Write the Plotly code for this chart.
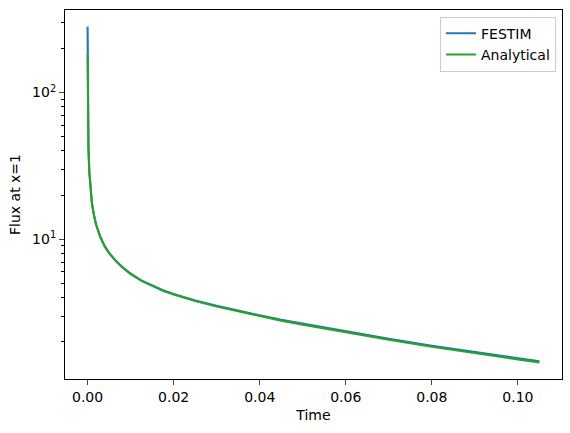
import plotly.graph_objects as go

time = [0, 1e-5, 3e-5, 1e-4, 2e-4, 4e-4, 7e-4, 0.001, 0.0015, 0.002, 0.003, 0.004,
        0.005, 0.0065, 0.008, 0.01, 0.0125, 0.015, 0.0175, 0.02, 0.0225, 0.025,
        0.03, 0.035, 0.04, 0.045, 0.05, 0.06, 0.07, 0.08, 0.09, 0.1, 0.105]
analytical = [182, 148, 95.5, 57.5, 41.7, 28.8, 20.9, 17.6, 14.45, 12.5, 10.28, 8.91,
              8.04, 7.13, 6.46, 5.79, 5.21, 4.79, 4.46, 4.20, 3.98, 3.79,
              3.48, 3.22, 2.99, 2.79, 2.62, 2.32, 2.07, 1.85, 1.67, 1.52, 1.45]
festim = [280, 149, 96, 57.7, 41.8, 28.9, 21.0, 17.7, 14.5, 12.55, 10.32, 8.95,
          8.08, 7.17, 6.50, 5.83, 5.25, 4.83, 4.50, 4.24, 4.02, 3.83,
          3.52, 3.26, 3.03, 2.83, 2.66, 2.36, 2.10, 1.88, 1.70, 1.545, 1.475]

font = dict(family="DejaVu Sans", size=14, color="#000000")

fig = go.Figure()
fig.add_trace(go.Scatter(x=time, y=festim, mode="lines", name="FESTIM",
                         line=dict(color="#1f77b4", width=2.1)))
fig.add_trace(go.Scatter(x=time, y=analytical, mode="lines", name="Analytical",
                         line=dict(color="#2ca02c", width=2.1)))

minor_vals = [m * 10 ** e for e in (0, 1, 2) for m in range(2, 10)]

fig.update_layout(
    width=570, height=433,
    margin=dict(l=65, r=8, t=10, b=54),
    paper_bgcolor="white", plot_bgcolor="white",
    font=font,
    showlegend=True,
    legend=dict(x=0.988, y=0.982, xanchor="right", yanchor="top",
                bordercolor="#cccccc", borderwidth=1, bgcolor="rgba(255,255,255,0.8)",
                font=dict(family="DejaVu Sans", size=14), itemwidth=30,
                tracegroupgap=0),
    xaxis=dict(range=[-0.00525, 0.11025], tickvals=[0, 0.02, 0.04, 0.06, 0.08, 0.10],
               tickformat=".2f", ticks="outside", ticklen=5, tickwidth=1.1,
               showline=True, linecolor="black", linewidth=1.1, mirror=True,
               showgrid=False, zeroline=False,
               title=dict(text="Time", font=font, standoff=6)),
    yaxis=dict(type="log", range=[0.048, 2.562],
               tickvals=[10, 100], ticktext=["10<sup>1</sup>", "10<sup>2</sup>"],
               ticks="outside", ticklen=5, tickwidth=1.1,
               minor=dict(tickvals=minor_vals, ticks="outside", ticklen=3, tickwidth=0.8,
                          tickcolor="black", showgrid=False),
               showline=True, linecolor="black", linewidth=1.1, mirror=True,
               showgrid=False, zeroline=False,
               title=dict(text="Flux at x=1", font=font, standoff=8)),
)

fig.write_html("out.html")
